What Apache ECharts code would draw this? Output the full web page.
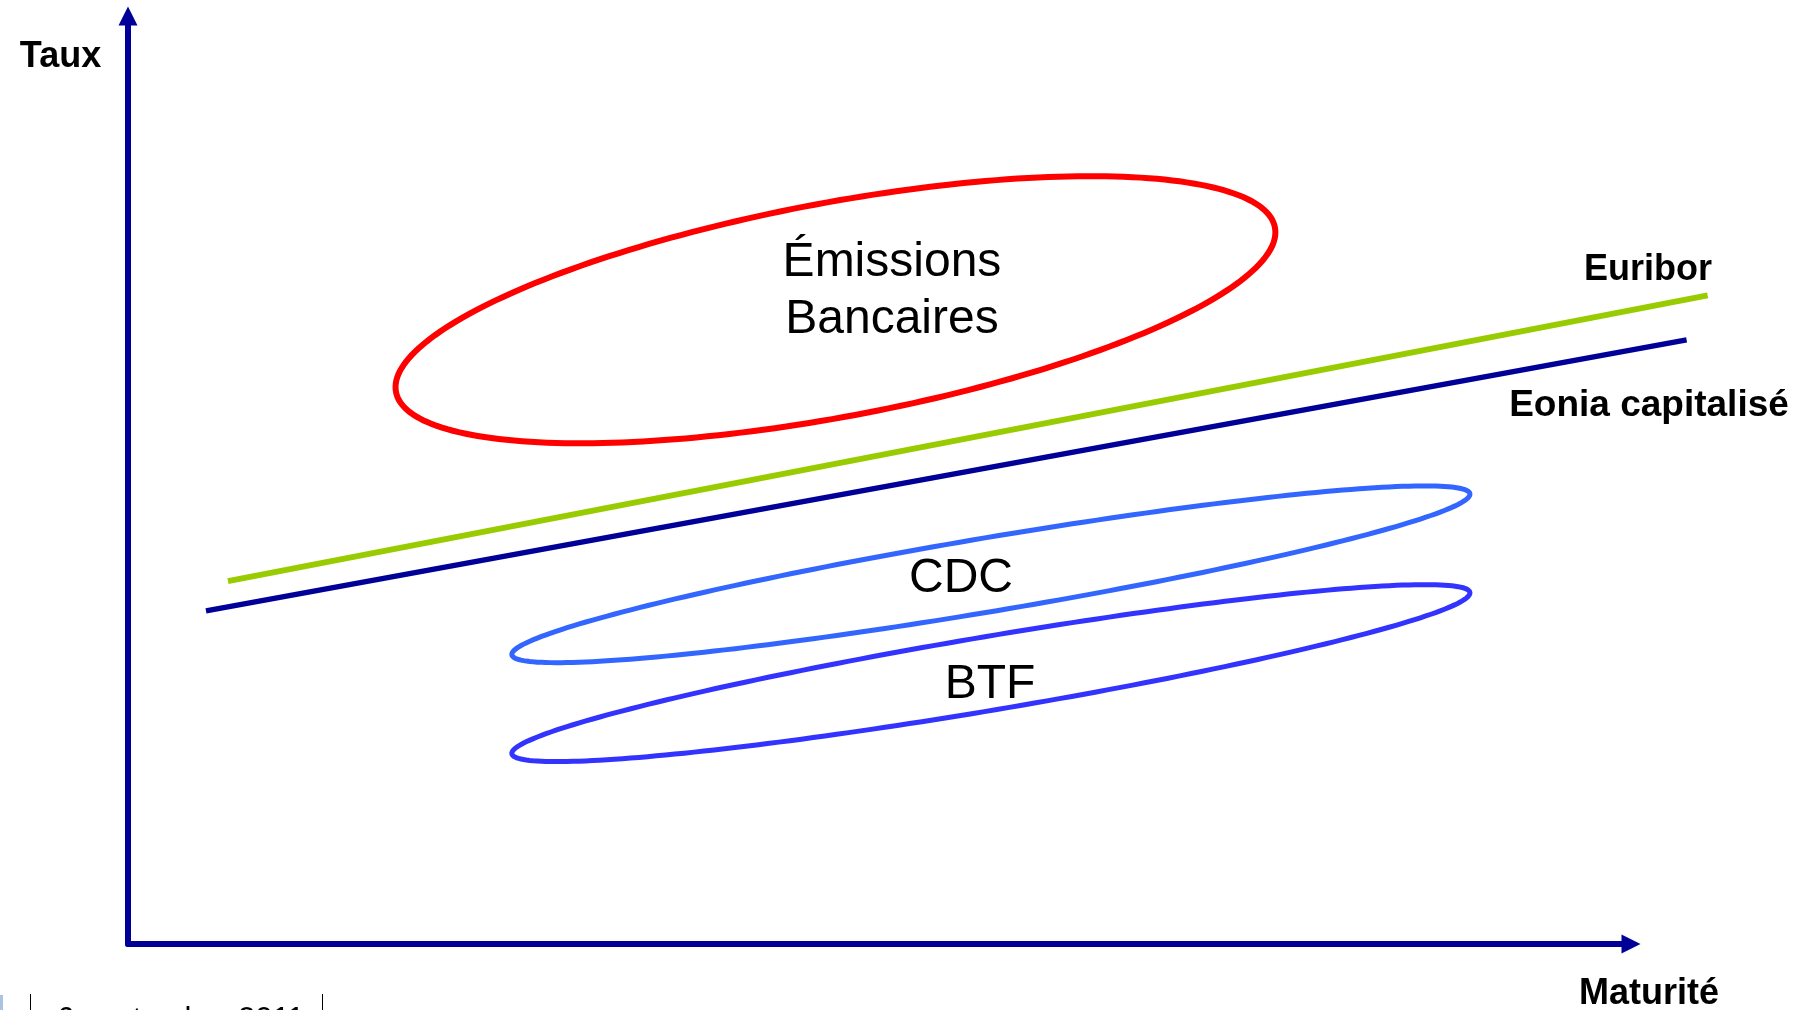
<!DOCTYPE html>
<html><head><meta charset="utf-8">
<script src="https://cdn.jsdelivr.net/npm/echarts@6/dist/echarts.min.js"></script>
<style>html,body{margin:0;padding:0;background:#fff;overflow:hidden}#c{width:1812px;height:1010px}</style>
</head><body><div id="c"></div>
<script>
// ---- data (maturité on x, taux on y, arbitrary units) ----
const euriborPoints = [[6.65, 39.1], [105.1, 69.9]];
const eoniaPoints   = [[5.19, 35.9], [103.7, 65.1]];

const zoneNames     = ['Émissions\nBancaires', 'CDC', 'BTF'];
const zoneCenters   = [[47.07, 68.35], [57.41, 39.84], [57.41, 29.19]];
const zoneMajorEnds = [[76.31, 77.21], [89.28, 48.52], [89.28, 37.88]];
const zoneMinorEnds = [[45.76, 79.69], [57.01, 43.76], [57.01, 33.11]];
const zoneLabelAt   = [[50.83, 70.35], [55.42, 39.35], [57.35, 27.9]];
const zoneColors    = ['#FF0000', '#3366FF', '#3333FF'];
const zoneWidths    = [6, 5, 5];

const axisTitles = { y: 'Taux', x: 'Maturité' };
const curveNames = ['Euribor', 'Eonia capitalisé'];
const footerText = '6 septembre 2011';

const FONT = '"Liberation Sans", Arial, sans-serif';
const chart = echarts.init(document.getElementById('c'), null, {renderer: 'canvas'});

const zoneData = zoneNames.map((n, i) => [
  zoneCenters[i][0], zoneCenters[i][1],
  zoneMajorEnds[i][0], zoneMajorEnds[i][1],
  zoneMinorEnds[i][0], zoneMinorEnds[i][1],
  zoneLabelAt[i][0], zoneLabelAt[i][1]
]);

const hiddenAxis = { show: false };

chart.setOption({
  backgroundColor: '#ffffff',
  animation: false,
  grid: [
    // visible axes: 0..100 on both
    { left: 128, right: 181, top: 16, bottom: 66 },
    // same scale, wider, so curves can run past the axis arrow
    { left: 128, right: 30.7, top: 16, bottom: 66 }
  ],
  xAxis: [
    {
      type: 'value', min: 0, max: 100, gridIndex: 0,
      axisLine: { show: true, onZero: true, symbol: ['none', 'triangle'], symbolSize: [19, 19],
        lineStyle: { color: '#000099', width: 6 } },
      axisTick: { show: false }, axisLabel: { show: false }, splitLine: { show: false }
    },
    Object.assign({ type: 'value', min: 0, max: 110, gridIndex: 1 }, hiddenAxis)
  ],
  yAxis: [
    {
      type: 'value', min: 0, max: 100, gridIndex: 0,
      axisLine: { show: true, onZero: true, symbol: ['none', 'triangle'], symbolSize: [19, 19],
        lineStyle: { color: '#000099', width: 6 } },
      axisTick: { show: false }, axisLabel: { show: false }, splitLine: { show: false }
    },
    Object.assign({ type: 'value', min: 0, max: 100, gridIndex: 1 }, hiddenAxis)
  ],
  series: [
    {
      name: curveNames[0], type: 'line', xAxisIndex: 1, yAxisIndex: 1,
      data: euriborPoints, showSymbol: false, clip: false,
      lineStyle: { color: '#99CC00', width: 6 }, z: 3
    },
    {
      name: curveNames[1], type: 'line', xAxisIndex: 1, yAxisIndex: 1,
      data: eoniaPoints, showSymbol: false, clip: false,
      lineStyle: { color: '#000099', width: 5.5 }, z: 3
    },
    {
      type: 'custom', coordinateSystem: 'cartesian2d', xAxisIndex: 1, yAxisIndex: 1,
      clip: false, z: 4,
      data: zoneData,
      renderItem: function (params, api) {
        const i = params.dataIndex;
        const c = api.coord([api.value(0), api.value(1)]);
        const m = api.coord([api.value(2), api.value(3)]);
        const n = api.coord([api.value(4), api.value(5)]);
        const l = api.coord([api.value(6), api.value(7)]);
        const u = [m[0] - c[0], m[1] - c[1]];
        const v = [n[0] - c[0], n[1] - c[1]];
        const pts = [];
        const N = 240;
        for (let k = 0; k < N; k++) {
          const t = k / N * 2 * Math.PI;
          pts.push([c[0] + Math.cos(t) * u[0] + Math.sin(t) * v[0],
                    c[1] + Math.cos(t) * u[1] + Math.sin(t) * v[1]]);
        }
        return {
          type: 'group',
          children: [
            { type: 'text', x: l[0], y: l[1],
              style: { text: zoneNames[i], fill: '#000', font: '48px ' + FONT,
                       align: 'center', verticalAlign: 'middle', lineHeight: 57 } },
            { type: 'polygon', shape: { points: pts },
              style: { fill: 'none', stroke: zoneColors[i], lineWidth: zoneWidths[i] } }
          ]
        };
      }
    }
  ],
  graphic: [
    { type: 'text', x: 60.5, y: 57.5, style: { text: axisTitles.y, fill: '#000', font: 'bold 36px ' + FONT, align: 'center', verticalAlign: 'middle' } },
    { type: 'text', x: 1649, y: 994, style: { text: axisTitles.x, fill: '#000', font: 'bold 36px ' + FONT, align: 'center', verticalAlign: 'middle' } },
    { type: 'text', x: 1648, y: 270.5, style: { text: curveNames[0], fill: '#000', font: 'bold 36px ' + FONT, align: 'center', verticalAlign: 'middle' } },
    { type: 'text', x: 1649, y: 405.5, style: { text: curveNames[1], fill: '#000', font: 'bold 37px ' + FONT, align: 'center', verticalAlign: 'middle' } },
    { type: 'rect', shape: { x: 0, y: 995, width: 3, height: 15 }, style: { fill: '#A9C4DC' } },
    { type: 'rect', shape: { x: 30, y: 994, width: 1, height: 16 }, style: { fill: '#000' } },
    { type: 'rect', shape: { x: 322, y: 994, width: 1, height: 16 }, style: { fill: '#000' } },
    { type: 'text', x: 57, y: 1020, style: { text: footerText, fill: '#000', font: '31px ' + FONT, align: 'left', verticalAlign: 'middle' } }
  ]
});
</script>
</body></html>
